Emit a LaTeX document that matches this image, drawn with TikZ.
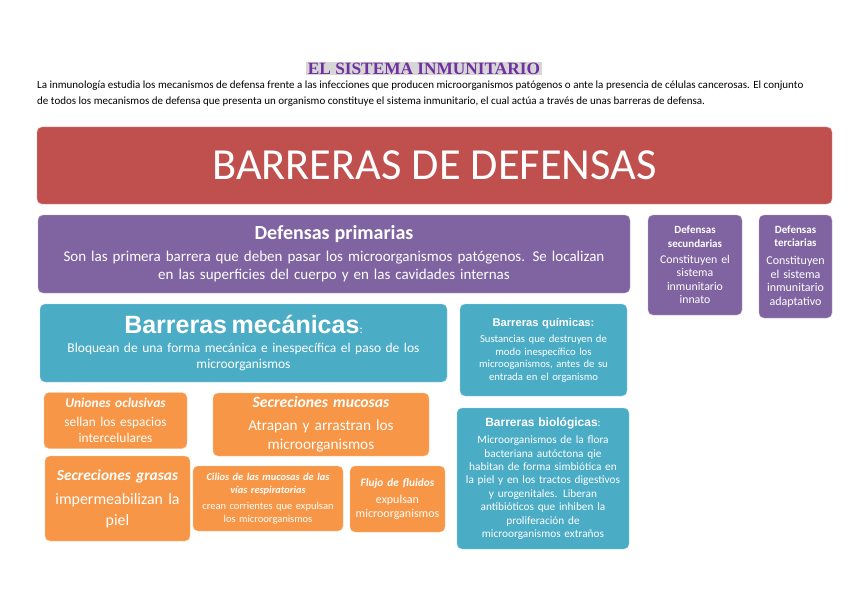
\documentclass[tikz,border=0pt]{standalone}
\usepackage{fontspec}
\setmainfont{Carlito}
\newfontfamily\titlefont{Liberation Serif}
\newfontfamily\headfont{Liberation Sans}
\usetikzlibrary{positioning}
\definecolor{rojocolor}{RGB}{192,80,77}
\definecolor{moradocolor}{RGB}{128,100,162}
\definecolor{azulcolor}{RGB}{75,172,198}
\definecolor{naranjacolor}{RGB}{247,150,70}
\definecolor{titulocolor}{RGB}{112,48,160}
\definecolor{marcacolor}{RGB}{214,214,214}

\begin{document}
\begin{tikzpicture}[x=1pt, y=-1pt,
  box/.style   = {rectangle, rounded corners=5pt, align=center,
                  text=white, inner sep=3pt},
  rojo/.style  = {box, fill=rojocolor, draw=rojocolor!55!white},
  morado/.style= {box, fill=moradocolor, draw=moradocolor!55!white},
  azul/.style  = {box, fill=azulcolor, draw=azulcolor!55!white},
  naranja/.style={box, fill=naranjacolor, draw=naranjacolor!55!white},
  titulo/.style= {fill=marcacolor, inner xsep=2pt, inner ysep=1pt,
                  font=\titlefont\bfseries\fontsize{17.3}{18}\selectfont,
                  text=titulocolor},
  intro/.style = {align=left, inner sep=0pt,
                  font=\fontsize{11}{16}\selectfont}
]
\useasboundingbox (0,0) rectangle (848,599);

\node[titulo] (titulo) at (424,68.5) {EL SISTEMA INMUNITARIO};
\node[intro, anchor=north west] (intro) at (37,80.5)
  {La inmunología estudia los mecanismos de defensa frente a las infecciones que producen microorganismos patógenos o ante la presencia de células cancerosas. El conjunto\\
   de todos los mecanismos de defensa que presenta un organismo constituye el sistema inmunitario, el cual actúa a través de unas barreras de defensa.};

\node[rojo, minimum width=795, minimum height=77,
      font=\fontsize{44.4}{46}\selectfont] (barreras) at (434.5,165.5)
  {BARRERAS DE DEFENSAS};

% defensas
\node[morado, minimum width=592, minimum height=78, text width=586,
      font=\fontsize{15}{18}\selectfont] (primarias) at (334,254)
  {{\fontsize{20}{20}\selectfont\bfseries Defensas primarias}\\[4pt]
   Son las primera barrera que deben pasar los microorganismos patógenos. Se localizan\\
   en las superficies del cuerpo y en las cavidades internas};
\node[morado, minimum width=94, minimum height=100, text width=90,
      inner sep=2pt, font=\fontsize{11.8}{13.4}\selectfont] (secundarias) at (695,265)
  {{\fontsize{11}{12}\selectfont\bfseries Defensas\\ secundarias}\\[3pt]
   Constituyen el\\ sistema\\ inmunitario\\ innato};
\node[morado, minimum width=73, minimum height=103, text width=71,
      inner sep=1pt, font=\fontsize{12}{13.6}\selectfont] (terciarias) at (795.5,266.5)
  {{\fontsize{11}{12}\selectfont\bfseries Defensas\\ terciarias}\\[4pt]
   Constituyen\\ el sistema\\ inmunitario\\ adaptativo};

% barreras
\node[azul, minimum width=407, minimum height=78, text width=401,
      font=\fontsize{13.5}{16}\selectfont] (mecanicas) at (243.5,343)
  {{\headfont\bfseries\fontsize{25}{26}\selectfont Barreras mecánicas}{\fontsize{12}{12}\selectfont:}\\[3pt]
   Bloquean de una forma mecánica e inespecífica el paso de los\\ microorganismos};
\node[azul, minimum width=167, minimum height=92, text width=163,
      inner sep=2pt, font=\fontsize{10.7}{12.5}\selectfont] (quimicas) at (543.5,350)
  {{\headfont\bfseries\fontsize{11.2}{12}\selectfont Barreras químicas:}\\[4pt]
   Sustancias que destruyen de\\ modo inespecífico los\\ microoganismos, antes de su\\ entrada en el organismo};
\node[azul, minimum width=172, minimum height=141, text width=168,
      inner sep=2pt, font=\fontsize{11.3}{13.4}\selectfont] (biologicas) at (543,478.5)
  {{\headfont\bfseries\fontsize{12}{12}\selectfont Barreras biológicas}:\\[4pt]
   Microorganismos de la flora\\ bacteriana autóctona qie\\ habitan de forma simbiótica en\\
   la piel y en los tractos digestivos\\ y urogenitales. Liberan\\ antibióticos que inhiben la\\
   proliferación de\\ microorganismos extraños};

\node[naranja, minimum width=143, minimum height=56, text width=139,
      inner sep=2pt, font=\fontsize{13.4}{16}\selectfont] (uniones) at (115.5,420.5)
  {{\fontsize{13.5}{14}\selectfont\bfseries\itshape Uniones oclusivas}\\[3pt]
   sellan los espacios\\ intercelulares};
\node[naranja, minimum width=216, minimum height=63, text width=210,
      font=\fontsize{15.3}{19}\selectfont] (mucosas) at (321,424.5)
  {{\fontsize{15.7}{17}\selectfont\bfseries\itshape Secreciones mucosas}\\[4pt]
   Atrapan y arrastran los\\ microorganismos};
\node[naranja, minimum width=145, minimum height=85, text width=141,
      inner sep=2pt, font=\fontsize{15.9}{21}\selectfont] (grasas) at (117.5,498.5)
  {{\fontsize{15.4}{18}\selectfont\bfseries\itshape Secreciones grasas}\\[3pt]
   impermeabilizan la\\ piel};
\node[naranja, minimum width=150, minimum height=65, text width=146,
      inner sep=2pt, font=\fontsize{10.5}{12.5}\selectfont] (cilios) at (268,498.5)
  {{\fontsize{10.4}{12}\selectfont\bfseries\itshape Cilios de las mucosas de las\\ vías respiratorias}\\[4pt]
   crean corrientes que expulsan\\ los microorganismos};
\node[naranja, minimum width=95, minimum height=66, text width=93,
      inner sep=1pt, font=\fontsize{12}{14}\selectfont] (flujo) at (397.5,499)
  {{\fontsize{11.3}{13}\selectfont\bfseries\itshape Flujo de fluidos}\\[3pt]
   expulsan\\ microorganismos};
\end{tikzpicture}
\end{document}
